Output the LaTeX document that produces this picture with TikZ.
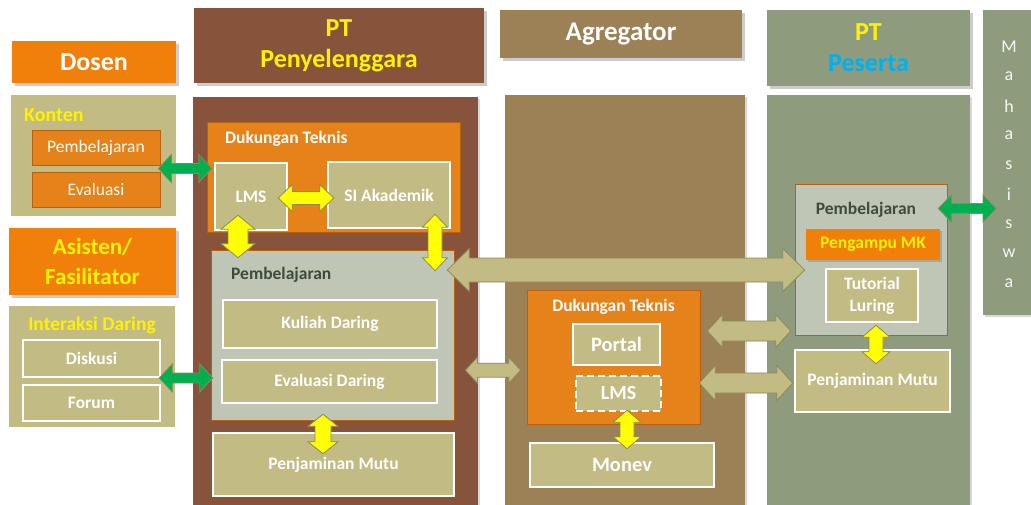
\documentclass[tikz,border=0pt]{standalone}
\usepackage{fontspec}
\setmainfont{Carlito}
\usetikzlibrary{calc,shadows}

\definecolor{hdrorange}{HTML}{F08009}
\definecolor{dtorange}{HTML}{E5821A}
\definecolor{dtedge}{HTML}{B9600F}
\definecolor{ptbrown}{HTML}{87533B}
\definecolor{aggbrown}{HTML}{9B8155}
\definecolor{ptsgreen}{HTML}{8E9C7D}
\definecolor{khaki}{HTML}{C2BB83}
\definecolor{pembgray}{HTML}{BFC6B6}
\definecolor{darktext}{HTML}{3F4A3F}
\definecolor{cyantext}{HTML}{00B0F0}
\definecolor{arryellow}{HTML}{FFFF00}
\definecolor{arrgreen}{HTML}{00B050}
\definecolor{arredge}{HTML}{8C8A5A}

\newcommand{\smallfont}{\fontsize{17.5}{21}\selectfont}
% double block arrows: [style]{left/top}{right/bottom}{half body}{half head}{head length}
\newcommand{\harrow}[6][]{%
  \path[#1] let \p1=(#2), \p2=(#3) in
    (\x1,\y1) -- (\x1+#6pt,\y1+#5pt) -- (\x1+#6pt,\y1+#4pt) -- (\x2-#6pt,\y1+#4pt)
    -- (\x2-#6pt,\y1+#5pt) -- (\x2,\y1) -- (\x2-#6pt,\y1-#5pt) -- (\x2-#6pt,\y1-#4pt)
    -- (\x1+#6pt,\y1-#4pt) -- (\x1+#6pt,\y1-#5pt) -- cycle;}
\newcommand{\varrow}[6][]{%
  \path[#1] let \p1=(#2), \p2=(#3) in
    (\x1,\y1) -- (\x1+#5pt,\y1-#6pt) -- (\x1+#4pt,\y1-#6pt) -- (\x1+#4pt,\y2+#6pt)
    -- (\x1+#5pt,\y2+#6pt) -- (\x1,\y2) -- (\x1-#5pt,\y2+#6pt) -- (\x1-#4pt,\y2+#6pt)
    -- (\x1-#4pt,\y1-#6pt) -- (\x1-#5pt,\y1-#6pt) -- cycle;}

\tikzset{
  hdr/.style={fill=#1, inner sep=0pt, align=center, text=white,
    font=\fontsize{26}{31}\selectfont\bfseries,
    drop shadow={shadow xshift=2.5pt, shadow yshift=-2.5pt, opacity=0.4}},
  bodybox/.style={fill=#1, anchor=north west, inner sep=0pt,
    drop shadow={shadow xshift=2pt, shadow yshift=-2pt, opacity=0.3}},
  khakibox/.style={fill=khaki, draw=white, line width=2.5pt, text=white,
    font=\smallfont\bfseries, inner sep=0pt, align=center},
  subbox/.style={fill=dtorange, draw=dtedge, line width=0.8pt, text=white,
    font=\smallfont, inner sep=0pt},
  dtbox/.style={fill=dtorange, draw=dtedge, line width=0.6pt, inner sep=0pt},
  pembbox/.style={fill=pembgray, draw=dtedge, line width=0.6pt, inner sep=0pt},
  title/.style={font=\smallfont\bfseries, text=#1, inner sep=0pt},
  yarrow/.style={fill=arryellow, draw=arredge, line width=0.8pt},
  garrow/.style={fill=arrgreen, draw=arredge, line width=0.8pt},
  karrow/.style={fill=khaki, draw=arredge, line width=0.8pt},
}

\begin{document}
\begin{tikzpicture}[x=1pt,y=-1pt]
  \useasboundingbox[fill=white] (0,0) rectangle (1031,504);

  % Headers
  \node[hdr=hdrorange, minimum width=164pt, minimum height=42pt] (dosen) at (94,62) {Dosen};
  \node[hdr=ptbrown, minimum width=290pt, minimum height=75pt, text=yellow] (ptp) at (339,45.5) {PT\\Penyelenggara};
  \node[hdr=aggbrown, minimum width=242pt, minimum height=48pt, font=\fontsize{27}{31}\selectfont\bfseries] (agg) at (621,34) {Agregator};
  \node[hdr=ptsgreen, minimum width=203pt, minimum height=76pt] (pts) at (868.5,48) {\textcolor{yellow}{PT}\\\textcolor{cyantext}{Peserta}};
  \node[hdr=hdrorange, minimum width=167pt, minimum height=67pt, text=yellow, font=\fontsize{23}{30}\selectfont\bfseries] (asisten) at (92.5,261.5) {Asisten/\\Fasilitator};

  % Mahasiswa
  \node[bodybox=ptsgreen, minimum width=50pt, minimum height=305pt] (maha) at (983,10) {};
  \foreach \ch [count=\i from 0] in {M,a,h,a,s,i,s,w,a}
    \node[text=white!92!ptsgreen, font=\fontsize{18}{20}\selectfont, inner sep=0pt] (maha-\i) at (1009,47+29.5*\i) {\ch};

  % Dosen side
  \node[fill=khaki, minimum width=165pt, minimum height=121pt, inner sep=0pt] (konten) at (93.5,155.5) {};
  \node[title=yellow, anchor=west, font=\fontsize{20}{22}\selectfont\bfseries] (konten-t) at (24,115) {Konten};
  \node[subbox, minimum width=128pt, minimum height=35pt] (kpemb) at (96,147.5) {Pembelajaran};
  \node[subbox, minimum width=128pt, minimum height=35pt] (keval) at (96,189.5) {Evaluasi};
  \node[fill=khaki, minimum width=166pt, minimum height=121pt, inner sep=0pt] (interaksi) at (92,366.5) {};
  \node[title=yellow, font=\fontsize{19.5}{22}\selectfont\bfseries] (interaksi-t) at (92,325) {Interaksi Daring};
  \node[khakibox, minimum width=137pt, minimum height=37pt] (diskusi) at (91.5,358.5) {Diskusi};
  \node[khakibox, minimum width=137pt, minimum height=36pt] (forum) at (91.5,403) {Forum};

  % PT Penyelenggara
  \node[bodybox=ptbrown, minimum width=285pt, minimum height=420pt] (ptpbody) at (193,97) {};
  \node[dtbox, minimum width=253pt, minimum height=110pt] (dt1) at (333.5,177) {};
  \node[title=white, anchor=west] (dt1-t) at (225,139) {Dukungan Teknis};
  \node[khakibox, minimum width=72pt, minimum height=67pt] (lms1) at (251,196.5) {LMS};
  \node[khakibox, minimum width=122pt, minimum height=66pt] (siak) at (389,195) {SI Akademik};
  \node[pembbox, minimum width=243pt, minimum height=170pt] (pemb1) at (332.5,335) {};
  \node[title=darktext, anchor=west] (pemb1-t) at (231,275) {Pembelajaran};
  \node[khakibox, minimum width=214pt, minimum height=48pt] (kuliah) at (330,324) {Kuliah Daring};
  \node[khakibox, minimum width=215pt, minimum height=43pt] (evald) at (329.5,381.5) {Evaluasi Daring};
  \node[khakibox, minimum width=241pt, minimum height=63pt] (pm1) at (333.5,464.5) {Penjaminan Mutu};

  % Agregator
  \node[bodybox=aggbrown, minimum width=240pt, minimum height=420pt] (aggbody) at (505,95) {};
  \node[dtbox, minimum width=173pt, minimum height=134pt] (dt2) at (613.5,357) {};
  \node[title=white] (dt2-t) at (613.5,307) {Dukungan Teknis};
  \node[khakibox, minimum width=87pt, minimum height=41pt, font=\fontsize{20.5}{22}\selectfont\bfseries] (portal) at (616.5,344.5) {Portal};
  \node[khakibox, dashed, dash pattern=on 7pt off 4pt, minimum width=85pt, minimum height=35pt, font=\fontsize{20}{22}\selectfont\bfseries] (lms2) at (618.5,393.5) {LMS};
  \node[khakibox, minimum width=184pt, minimum height=44pt, font=\fontsize{20.5}{22}\selectfont\bfseries] (monev) at (622,465) {Monev};

  % PT Peserta
  \node[bodybox=ptsgreen, minimum width=203pt, minimum height=420pt] (ptsbody) at (767,95) {};
  \node[pembbox, minimum width=152pt, minimum height=151pt] (pemb2) at (871,259.5) {};
  \node[title=darktext] (pemb2-t) at (866,210) {Pembelajaran};
  \node[fill=hdrorange, minimum width=134pt, minimum height=31pt, inner sep=0pt, text=yellow, font=\smallfont\bfseries,
    drop shadow={shadow xshift=1.5pt, shadow yshift=-1.5pt, opacity=0.4}] (pengampu) at (873,244.5) {Pengampu MK};
  \node[khakibox, minimum width=92pt, minimum height=53pt, font=\fontsize{17.5}{22}\selectfont\bfseries] (tutor) at (872,295.5) {Tutorial\\Luring};
  \node[khakibox, minimum width=155pt, minimum height=62pt] (pm2) at (872.5,381) {Penjaminan Mutu};

  % Arrows
  \harrow[garrow]{$(kpemb.south east)!0.5!(keval.north east)+(-2,0)$}{$(lms1.west)+(-2,0)$}{5}{14}{13}
  \harrow[garrow]{$(diskusi.south east)!0.5!(forum.north east)+(-2,-3)$}{$(evald.west)+(-8,0)$}{5}{14}{13}
  \harrow[garrow]{$(pemb2.east)+(-9,-51)$}{$(maha.west)+(13,46)$}{5}{13.5}{13}
  \harrow[yarrow]{$(lms1.east)+(-10,1.5)$}{$(siak.west)+(7,3)$}{6.5}{13.5}{14}
  \varrow[yarrow]{$(lms1.south)+(-13,-16)$}{$(pemb1.north)+(-94.5,8)$}{10}{17}{14}
  \varrow[yarrow]{$(siak.south)+(46,-15)$}{$(pemb1.north)+(102.5,21)$}{7}{12.5}{13}
  \varrow[yarrow]{$(evald.south)+(-6.5,10)$}{$(pm1.north)+(-10.5,22)$}{8}{15}{12}
  \varrow[yarrow]{$(lms2.south)+(8.5,-2)$}{$(monev.north)+(5,7)$}{7}{14}{12}
  \varrow[yarrow]{$(tutor.south)+(4,2)$}{$(pm2.north)+(3.5,15)$}{7}{14}{12}
  \harrow[karrow]{$(pemb1.east)+(-7,-65)$}{$(pemb2.west)+(10,10.5)$}{12}{21.5}{22}
  \harrow[karrow]{$(ptpbody.east)+(-13,63)$}{$(dt2.west)+(-6,13)$}{7}{13}{12}
  \harrow[karrow]{$(dt2.east)+(7,-26)$}{$(pemb2.west)+(-4,71.5)$}{10}{16.5}{15}
  \harrow[karrow]{$(lms2.east)+(37,-10.5)$}{$(pm2.west)+(-1,2)$}{10}{17.5}{16}
\end{tikzpicture}
\end{document}
